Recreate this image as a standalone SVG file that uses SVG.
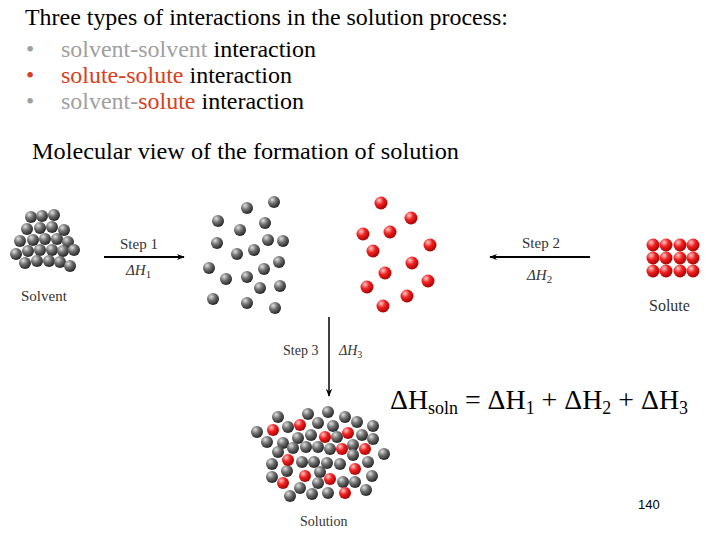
<svg xmlns="http://www.w3.org/2000/svg" width="720" height="540" viewBox="0 0 720 540">
<defs>
<radialGradient id="gg" cx="0.35" cy="0.3" r="0.75"><stop offset="0" stop-color="#e0e0e0"/><stop offset="0.45" stop-color="#707070"/><stop offset="1" stop-color="#1e1e1e"/></radialGradient>
<radialGradient id="rg" cx="0.35" cy="0.3" r="0.75"><stop offset="0" stop-color="#ffc8c8"/><stop offset="0.45" stop-color="#f02020"/><stop offset="1" stop-color="#a00000"/></radialGradient>
<marker id="ah" viewBox="0 0 10 10" refX="9" refY="5" markerWidth="8" markerHeight="8" orient="auto" markerUnits="userSpaceOnUse"><path d="M0,1 L10,5 L0,9 L3,5 Z" fill="#000"/></marker>
</defs>
<style>
text,tspan{font-family:"Liberation Serif","Times New Roman",serif}
.t{font-size:23.5px;fill:#000}
.g{fill:#a0a0a0}.r{fill:#d9401a}
.s{font-size:15px;fill:#333}
.i{font-style:italic}
.gr circle{fill:url(#gg)}
.rd circle{fill:url(#rg)}
</style>
<rect width="720" height="540" fill="#fff"/>
<g id="title">
<text class="t" x="25" y="25" textLength="483" lengthAdjust="spacingAndGlyphs">Three types of interactions in the solution process:</text>
<text class="t g" x="26" y="57">•</text><text class="t" x="61" y="57" textLength="255" lengthAdjust="spacingAndGlyphs"><tspan class="g">solvent-solvent</tspan> interaction</text>
<text class="t r" x="26" y="83">•</text><text class="t" x="61" y="83" textLength="231" lengthAdjust="spacingAndGlyphs"><tspan class="r">solute-solute</tspan> interaction</text>
<text class="t g" x="26" y="109">•</text><text class="t" x="61" y="109" textLength="243" lengthAdjust="spacingAndGlyphs"><tspan class="g">solvent-</tspan><tspan class="r">solute</tspan> interaction</text>
<text class="t" x="32" y="159" textLength="427" lengthAdjust="spacingAndGlyphs">Molecular view of the formation of  solution</text>
</g>
<g id="solvent" class="gr">
<circle cx="31" cy="217" r="6"/><circle cx="42" cy="216" r="6"/><circle cx="54" cy="215" r="6"/>
<circle cx="27" cy="229" r="6"/><circle cx="40" cy="228" r="6"/><circle cx="52" cy="227" r="6"/><circle cx="64" cy="230" r="6"/>
<circle cx="20" cy="241" r="6"/><circle cx="33" cy="240" r="6"/><circle cx="45" cy="239" r="6"/><circle cx="57" cy="239" r="6"/><circle cx="68" cy="242" r="6"/>
<circle cx="16" cy="254" r="6"/><circle cx="28" cy="251" r="6"/><circle cx="40" cy="250" r="6"/><circle cx="52" cy="250" r="6"/><circle cx="63" cy="251" r="6"/><circle cx="74" cy="250" r="6"/>
<circle cx="25" cy="263" r="6"/><circle cx="37" cy="261" r="6"/><circle cx="49" cy="261" r="6"/><circle cx="60" cy="262" r="6"/><circle cx="70" cy="266" r="6"/>
<text class="s" x="21" y="301">Solvent</text>
</g>
<g id="solvent-separated" class="gr">
<circle cx="247" cy="208" r="6"/><circle cx="274" cy="202" r="6"/><circle cx="218" cy="221" r="6"/><circle cx="240" cy="230" r="6"/><circle cx="265" cy="223" r="6"/><circle cx="217" cy="243" r="6"/><circle cx="268" cy="240" r="6"/><circle cx="283" cy="241" r="6"/><circle cx="237" cy="254" r="6"/><circle cx="254" cy="250" r="6"/><circle cx="279" cy="262" r="6"/><circle cx="264" cy="269" r="6"/><circle cx="209" cy="268" r="6"/><circle cx="226" cy="279" r="6"/><circle cx="247" cy="277" r="6"/><circle cx="260" cy="288" r="6"/><circle cx="280" cy="286" r="6"/><circle cx="213" cy="299" r="6"/><circle cx="247" cy="303" r="6"/><circle cx="275" cy="308" r="6"/>
</g>
<g id="solute-separated" class="rd">
<circle cx="381" cy="203" r="6.5"/><circle cx="411" cy="218" r="6.5"/><circle cx="363" cy="234" r="6.5"/><circle cx="390" cy="232" r="6.5"/><circle cx="430" cy="245" r="6.5"/><circle cx="373" cy="251" r="6.5"/><circle cx="412" cy="263" r="6.5"/><circle cx="385" cy="273" r="6.5"/><circle cx="428" cy="281" r="6.5"/><circle cx="367" cy="287" r="6.5"/><circle cx="407" cy="296" r="6.5"/><circle cx="383" cy="306" r="6.5"/>
</g>
<g id="solute" class="rd">
<circle cx="653" cy="245" r="6.5"/><circle cx="666" cy="245" r="6.5"/><circle cx="680" cy="245" r="6.5"/><circle cx="693" cy="245" r="6.5"/>
<circle cx="653" cy="258" r="6.5"/><circle cx="666" cy="258" r="6.5"/><circle cx="680" cy="258" r="6.5"/><circle cx="693" cy="258" r="6.5"/>
<circle cx="653" cy="271" r="6.5"/><circle cx="666" cy="271" r="6.5"/><circle cx="680" cy="271" r="6.5"/><circle cx="693" cy="271" r="6.5"/>
<text class="s" x="649" y="311" style="font-size:16px">Solute</text>
</g>
<g id="solution">
<g class="gr">
<circle cx="278" cy="417" r="6"/><circle cx="308" cy="414" r="6"/><circle cx="328" cy="412" r="6"/><circle cx="345" cy="417" r="6"/>
<circle cx="318" cy="423" r="6"/><circle cx="333" cy="426" r="6"/><circle cx="357" cy="422" r="6"/><circle cx="257" cy="432" r="6"/><circle cx="288" cy="427" r="6"/><circle cx="373" cy="426" r="6"/>
<circle cx="267" cy="442" r="6"/><circle cx="283" cy="443" r="6"/><circle cx="298" cy="438" r="6"/><circle cx="311" cy="435" r="6"/><circle cx="337" cy="437" r="6"/><circle cx="362" cy="435" r="6"/><circle cx="373" cy="439" r="6"/>
<circle cx="278" cy="452" r="6"/><circle cx="293" cy="448" r="6"/><circle cx="306" cy="447" r="6"/><circle cx="318" cy="447" r="6"/><circle cx="330" cy="449" r="6"/><circle cx="353" cy="445" r="6"/><circle cx="384" cy="454" r="6"/>
<circle cx="272" cy="464" r="6"/><circle cx="302" cy="462" r="6"/><circle cx="314" cy="462" r="6"/><circle cx="327" cy="463" r="6"/><circle cx="340" cy="464" r="6"/><circle cx="353" cy="455" r="6"/><circle cx="368" cy="462" r="6"/>
<circle cx="287" cy="471" r="6"/><circle cx="320" cy="472" r="6"/><circle cx="272" cy="477" r="6"/><circle cx="343" cy="482" r="6"/><circle cx="355" cy="482" r="6"/><circle cx="372" cy="476" r="6"/>
<circle cx="300" cy="488" r="6"/><circle cx="318" cy="483" r="6"/><circle cx="290" cy="496" r="6"/><circle cx="312" cy="494" r="6"/><circle cx="328" cy="493" r="6"/><circle cx="366" cy="490" r="6"/>
</g>
<g class="rd">
<circle cx="300" cy="425" r="6"/><circle cx="273" cy="430" r="6"/><circle cx="348" cy="433" r="6"/><circle cx="325" cy="437" r="6"/><circle cx="342" cy="449" r="6"/><circle cx="365" cy="449" r="6"/><circle cx="288" cy="460" r="6"/><circle cx="355" cy="469" r="6"/><circle cx="305" cy="476" r="6"/><circle cx="330" cy="479" r="6"/><circle cx="283" cy="483" r="6"/><circle cx="345" cy="493" r="6"/>
</g>
<text class="s" x="300" y="526" style="font-size:14px">Solution</text>
</g>
<g id="connectors" stroke="#000" stroke-width="2" fill="none">
<line x1="104" y1="257" x2="184" y2="257" marker-end="url(#ah)"/>
<line x1="590" y1="257" x2="490" y2="257" marker-end="url(#ah)"/>
<line x1="329" y1="317" x2="329" y2="396" stroke-width="1.5" marker-end="url(#ah)"/>
</g>
<g id="labels">
<text class="s" x="120" y="249">Step 1</text>
<text class="s i" x="126" y="275">ΔH<tspan font-size="11" dy="3" font-style="normal">1</tspan></text>
<text class="s" x="522" y="248">Step 2</text>
<text class="s i" x="527" y="280">ΔH<tspan font-size="11" dy="3" font-style="normal">2</tspan></text>
<text class="s" x="283" y="355" style="font-size:14px">Step 3</text>
<text class="s i" x="339" y="355" style="font-size:14px">ΔH<tspan font-size="10" dy="3" font-style="normal">3</tspan></text>
</g>
<g id="equation">
<text class="t" x="390" y="409" style="font-size:28px" textLength="298" lengthAdjust="spacingAndGlyphs">ΔH<tspan font-size="18" dy="5">soln</tspan><tspan dy="-5"> = ΔH</tspan><tspan font-size="18" dy="5">1</tspan><tspan dy="-5"> + ΔH</tspan><tspan font-size="18" dy="5">2</tspan><tspan dy="-5"> + ΔH</tspan><tspan font-size="18" dy="5">3</tspan></text>
<text x="638" y="509" style="font-family:'Liberation Sans',sans-serif;font-size:13px">140</text>
</g>
</svg>
